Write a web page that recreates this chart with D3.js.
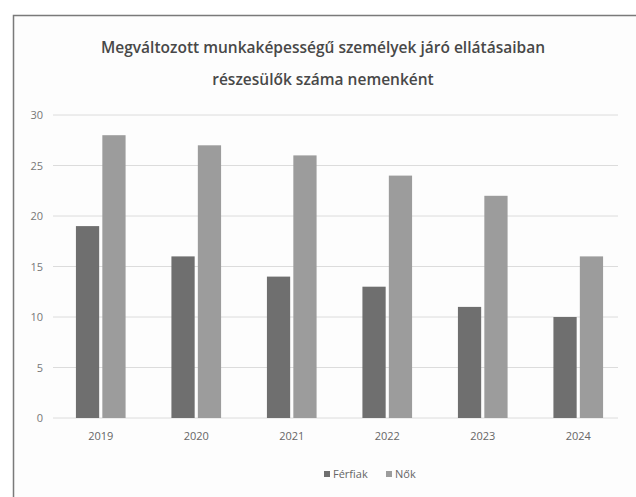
<!DOCTYPE html>
<html><head><meta charset="utf-8">
<script src="https://cdn.jsdelivr.net/npm/d3@7"></script>
<style>body{margin:0;background:#fff;}svg{display:block;}</style>
</head><body>
<svg id="c" width="636" height="497"></svg>
<script>
const categories = ["2019","2020","2021","2022","2023","2024"];
const seriesNames = ["Férfiak","Nők"];
const ferfiak = [19,16,14,13,11,10];
const nok = [28,27,26,24,22,16];
const yTicks = [0,5,10,15,20,25,30];
const titleLines = ["Megváltozott munkaképességű személyek járó ellátásaiban","részesülők száma nemenként"];

const colors = ["#6f6f6f","#9c9c9c"];
const svg = d3.select("#c");
const font = "'Open Sans', sans-serif";

// frame
svg.append("rect").attr("x",13.5).attr("y",15.5).attr("width",640).attr("height",500)
  .attr("fill","#fdfdfd").attr("stroke","#7a7a7a").attr("stroke-width",1.5);

const m = {l:53,r:626,t:115,b:418};
const x = d3.scaleBand().domain(categories).range([m.l,m.r]).paddingInner(0.48).paddingOuter(0.24);
const x1 = d3.scaleBand().domain(seriesNames).range([0,x.bandwidth()]).paddingInner(0.12);
const y = d3.scaleLinear().domain([0,30]).range([m.b,m.t]);

// gridlines
svg.append("g").selectAll("line").data(yTicks).join("line")
  .attr("x1",m.l).attr("x2",m.r-8).attr("y1",d=>y(d)).attr("y2",d=>y(d))
  .attr("stroke","#dcdcdc").attr("stroke-width",1);

// y axis labels
const ya = svg.append("g").attr("transform",`translate(${m.l-10},0)`)
  .call(d3.axisLeft(y).tickValues(yTicks).tickSize(0).tickPadding(0));
ya.select(".domain").remove();
ya.selectAll("text").attr("font-family",font).attr("font-size",11).attr("fill","#777");

// x axis labels
const xa = svg.append("g").attr("transform",`translate(0,${m.b})`)
  .call(d3.axisBottom(x).tickSize(0).tickPadding(14));
xa.select(".domain").remove();
xa.selectAll("text").attr("font-family",font).attr("font-size",11).attr("fill","#666");

// bars
const data = categories.map((c,i)=>({c, vals:[ferfiak[i],nok[i]]}));
svg.append("g").selectAll("g").data(data).join("g")
  .attr("transform",d=>`translate(${x(d.c)},0)`)
  .selectAll("rect").data(d=>d.vals.map((v,j)=>({s:seriesNames[j],v,j}))).join("rect")
  .attr("x",d=>x1(d.s)).attr("width",x1.bandwidth())
  .attr("y",d=>y(d.v)).attr("height",d=>y(0)-y(d.v))
  .attr("fill",d=>colors[d.j]);

// title
svg.append("g").selectAll("text").data(titleLines).join("text")
  .attr("x",323).attr("y",(d,i)=>53+i*32).attr("text-anchor","middle")
  .attr("font-family",font).attr("font-size",15.5).attr("font-weight",600).attr("fill","#484848")
  .text(d=>d);

// legend
const lg = svg.append("g").attr("transform","translate(324,478)");
const items = lg.selectAll("g").data(seriesNames).join("g")
  .attr("transform",(d,i)=>`translate(${i*62},0)`);
items.append("rect").attr("x",0).attr("y",-7).attr("width",6).attr("height",6).attr("fill",(d,i)=>colors[i]);
items.append("text").attr("x",9).attr("y",0).attr("font-family",font).attr("font-size",11).attr("fill","#666").text(d=>d);
</script>
</body></html>
